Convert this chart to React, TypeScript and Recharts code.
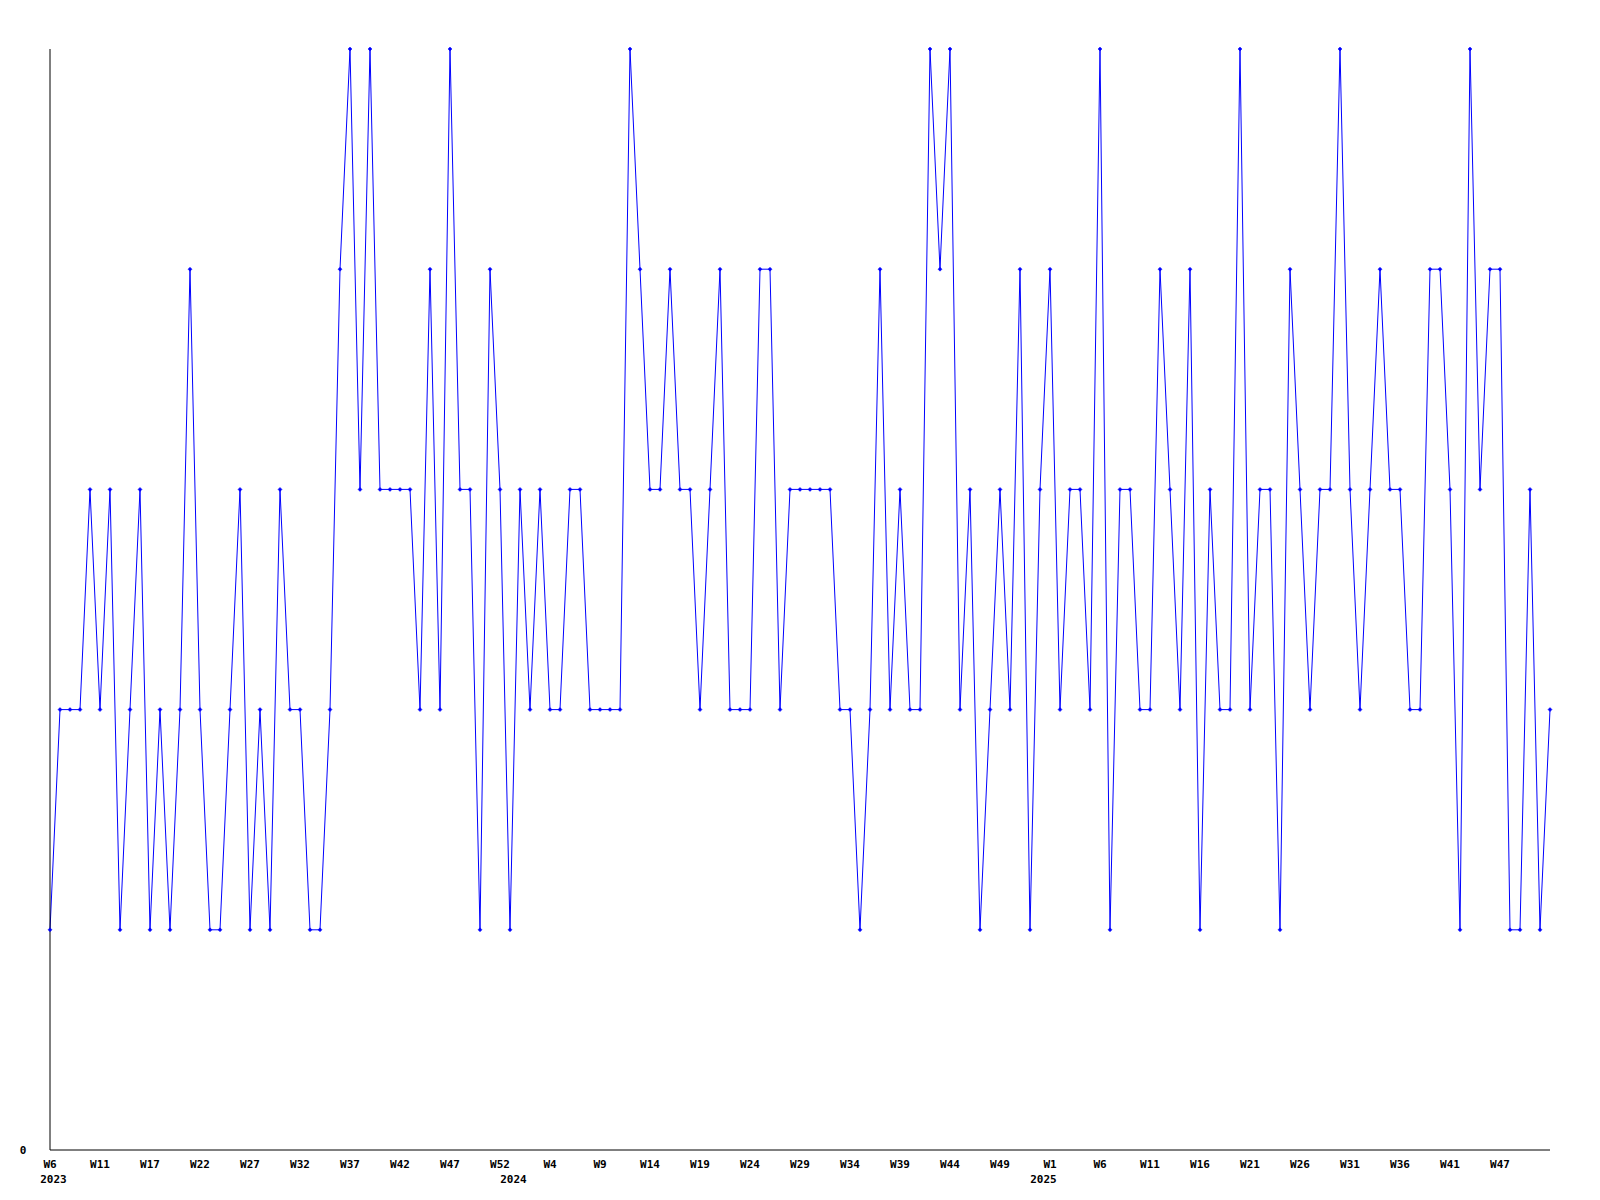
import { LineChart, Line, XAxis, YAxis } from 'recharts';

// weekly counts, W6 2023 -> end of 2025
const counts = [
  1, 2, 2, 2, 3, 2, 3, 1, 2, 3, 1, 2, 1, 2, 4, 2, 1, 1, 2, 3,
  1, 2, 1, 3, 2, 2, 1, 1, 2, 4, 5, 3, 5, 3, 3, 3, 3, 2, 4, 2,
  5, 3, 3, 1, 4, 3, 1, 3, 2, 3, 2, 2, 3, 3, 2, 2, 2, 2, 5, 4,
  3, 3, 4, 3, 3, 2, 3, 4, 2, 2, 2, 4, 4, 2, 3, 3, 3, 3, 3, 2,
  2, 1, 2, 4, 2, 3, 2, 2, 5, 4, 5, 2, 3, 1, 2, 3, 2, 4, 1, 3,
  4, 2, 3, 3, 2, 5, 1, 3, 3, 2, 2, 4, 3, 2, 4, 1, 3, 2, 2, 5,
  2, 3, 3, 1, 4, 3, 2, 3, 3, 5, 3, 2, 3, 4, 3, 3, 2, 2, 4, 4,
  3, 1, 5, 3, 4, 4, 1, 1, 3, 1, 2,
];

const weekTickIdx = [0, 5, 10, 15, 20, 25, 30, 35, 40, 45, 50, 55, 60, 65, 70, 75, 80, 85, 90, 95, 100, 105, 110, 115, 120, 125, 130, 135, 140, 145];
const weekTickLabels = ['W6', 'W11', 'W17', 'W22', 'W27', 'W32', 'W37', 'W42', 'W47', 'W52', 'W4', 'W9', 'W14', 'W19', 'W24', 'W29', 'W34', 'W39', 'W44', 'W49', 'W1', 'W6', 'W11', 'W16', 'W21', 'W26', 'W31', 'W36', 'W41', 'W47'];
const yearTickIdx = [0, 46, 99];
const yearLabels = ['2023', '2024', '2025'];

const data = counts.map((v, i) => ({ i, v }));
const allTicks = Array.from(new Set([...weekTickIdx, ...yearTickIdx])).sort((a, b) => a - b);

const font = '"DejaVu Sans Mono", monospace';

const XTick = (props: any) => {
  const { x, y, payload } = props;
  const idx = payload.value;
  const w = weekTickIdx.indexOf(idx);
  const yr = yearTickIdx.indexOf(idx);
  return (
    <g>
      {w >= 0 && (
        <text x={x} y={y + 16} textAnchor="middle" fontSize={11} fontWeight="bold" fontFamily={font} fill="#000">
          {weekTickLabels[w]}
        </text>
      )}
      {yr >= 0 && (
        <text x={x + 3.5} y={y + 31} textAnchor="middle" fontSize={11} fontWeight="bold" fontFamily={font} fill="#000">
          {yearLabels[yr]}
        </text>
      )}
    </g>
  );
};

const YTick = (props: any) => {
  const { y, payload } = props;
  if (payload.value !== 0) return null;
  return (
    <text x={23} y={y + 4} textAnchor="middle" fontSize={11} fontWeight="bold" fontFamily={font} fill="#000">
      0
    </text>
  );
};

const Dot = (props: any) => {
  const { cx, cy } = props;
  if (cx == null || cy == null) return null;
  return <path d={`M${cx - 2},${cy} L${cx},${cy - 2} L${cx + 2},${cy} L${cx},${cy + 2} Z`} fill="#0000ff" stroke="#0000ff" strokeWidth={0.5} />;
};

export default function App() {
  return (
    <div style={{ position: 'absolute', left: 0, top: 0, width: 1600, height: 1200, background: '#fff' }}>
      <LineChart width={1600} height={1200} data={data} margin={{ top: 49, right: 50, left: 0, bottom: 0 }}>
        <XAxis
          dataKey="i"
          type="number"
          domain={[0, 150]}
          ticks={allTicks}
          interval={0}
          tick={<XTick />}
          tickLine={false}
          tickSize={0}
          height={50}
          axisLine={{ stroke: '#000', strokeWidth: 1 }}
        />
        <YAxis
          domain={[0, 5]}
          ticks={[0]}
          width={50}
          tick={<YTick />}
          tickLine={false}
          tickSize={0}
          axisLine={{ stroke: '#000', strokeWidth: 1 }}
        />
        <Line
          type="linear"
          dataKey="v"
          stroke="#0000ff"
          strokeWidth={1}
          dot={<Dot />}
          activeDot={false}
          isAnimationActive={false}
        />
      </LineChart>
    </div>
  );
}
